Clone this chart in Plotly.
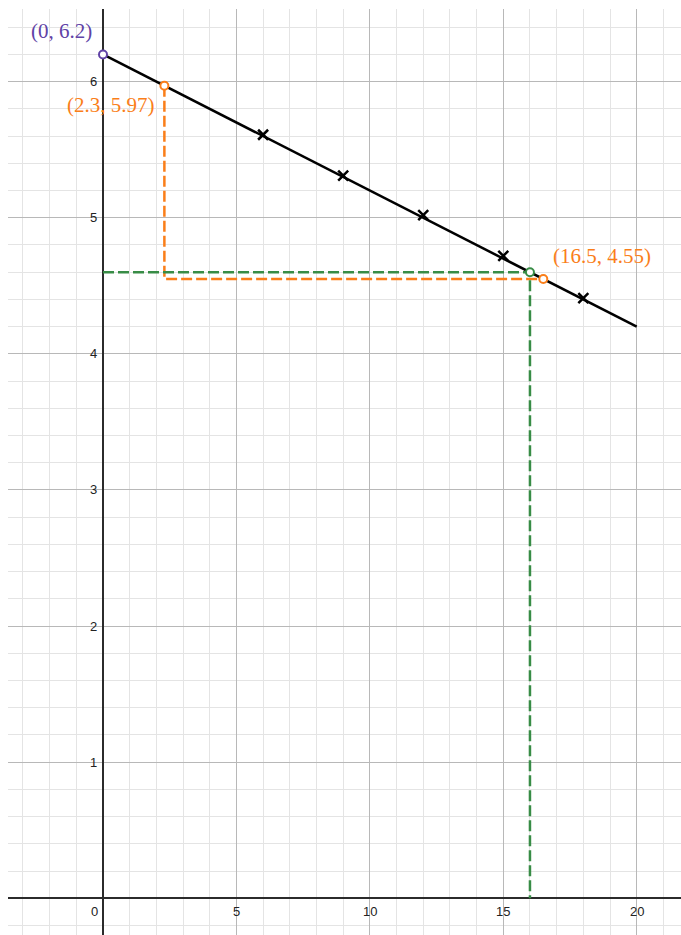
import plotly.graph_objects as go

# Fitted line y = 6.2 - 0.1 x, drawn between its two ends
line_x = [0, 20]
line_y = [6.2, 4.2]

# Measured values
data_x = [6, 9, 12, 15, 18]
data_y = [5.61, 5.31, 5.02, 4.72, 4.41]

# Highlighted points
intercept = (0, 6.2)
orange_pts_x = [2.3, 16.5]
orange_pts_y = [5.97, 4.55]
green_pt = (16, 4.6)

x_tick_vals = [0, 5, 10, 15, 20]
y_tick_vals = [1, 2, 3, 4, 5, 6]

PURPLE = "#6042a6"
ORANGE = "#fa7e19"
GREEN = "#388c46"
LABEL_FONT = dict(family="Liberation Serif, DejaVu Serif, serif", size=21)

fig = go.Figure()

# Orange construction: down from the first point, across to the second
fig.add_trace(go.Scatter(
    x=[orange_pts_x[0], orange_pts_x[0], orange_pts_x[1]],
    y=[orange_pts_y[0], orange_pts_y[1], orange_pts_y[1]],
    mode="lines", line=dict(color=ORANGE, width=2.5, dash="11px,4px"),
    hoverinfo="skip"))

# Green construction: from the y-axis to the point, then down to the x-axis
fig.add_trace(go.Scatter(
    x=[0, green_pt[0], green_pt[0]],
    y=[green_pt[1], green_pt[1], 0],
    mode="lines", line=dict(color=GREEN, width=2.5, dash="11px,4px"),
    hoverinfo="skip"))

fig.add_trace(go.Scatter(
    x=line_x, y=line_y, mode="lines",
    line=dict(color="#000000", width=2.5)))

fig.add_trace(go.Scatter(
    x=data_x, y=data_y, mode="markers",
    marker=dict(symbol="x-thin", size=10, line=dict(color="#000000", width=2.5))))

def open_point(x, y, color):
    fig.add_trace(go.Scatter(
        x=[x], y=[y], mode="markers",
        marker=dict(symbol="circle", size=8, color="white",
                    line=dict(color=color, width=2))))

open_point(intercept[0], intercept[1], PURPLE)
open_point(green_pt[0], green_pt[1], GREEN)
for px, py in zip(orange_pts_x, orange_pts_y):
    open_point(px, py, ORANGE)

def fmt(v):
    return f"{v:g}"

# Coordinate labels
fig.add_annotation(x=intercept[0], y=intercept[1], text=f"({fmt(intercept[0])}, {fmt(intercept[1])})",
                   showarrow=False, xanchor="right", yanchor="bottom", xshift=-9, yshift=9,
                   font=dict(color=PURPLE, **LABEL_FONT))
fig.add_annotation(x=orange_pts_x[0], y=orange_pts_y[0],
                   text=f"({fmt(orange_pts_x[0])}, {fmt(orange_pts_y[0])})",
                   showarrow=False, xanchor="right", yanchor="top", xshift=-7, yshift=-5,
                   font=dict(color=ORANGE, **LABEL_FONT))
fig.add_annotation(x=orange_pts_x[1], y=orange_pts_y[1],
                   text=f"({fmt(orange_pts_x[1])}, {fmt(orange_pts_y[1])})",
                   showarrow=False, xanchor="left", yanchor="bottom", xshift=8, yshift=9,
                   font=dict(color=ORANGE, **LABEL_FONT))

# Axis numbers next to the axes
TICK_FONT = dict(family="Liberation Sans, Arial, sans-serif", size=13, color="#222222")
for v in x_tick_vals:
    fig.add_annotation(x=v, y=0, text=str(v), showarrow=False,
                       xanchor="center" if v != 0 else "right",
                       xshift=0 if v != 0 else -3, yanchor="top", yshift=-4, font=TICK_FONT)
for v in y_tick_vals:
    fig.add_annotation(x=0, y=v, text=str(v), showarrow=False,
                       xanchor="right", xshift=-4, yanchor="middle", font=TICK_FONT)

fig.update_xaxes(range=[-3.56, 21.66], dtick=5, tick0=0, showticklabels=False,
                 showgrid=True, gridcolor="#b8b8b8", gridwidth=1,
                 minor=dict(dtick=1, tick0=0, showgrid=True, gridcolor="#e4e4e4", gridwidth=1),
                 zeroline=True, zerolinecolor="#2b2b2b", zerolinewidth=2,
                 showline=False, fixedrange=True)
fig.update_yaxes(range=[-0.27, 6.534], dtick=1, tick0=0, showticklabels=False,
                 showgrid=True, gridcolor="#b8b8b8", gridwidth=1,
                 minor=dict(dtick=0.2, tick0=0, showgrid=True, gridcolor="#e4e4e4", gridwidth=1),
                 zeroline=True, zerolinecolor="#2b2b2b", zerolinewidth=2,
                 showline=False, fixedrange=True)

fig.update_layout(width=681, height=935, margin=dict(l=8, r=0, t=9, b=0),
                  plot_bgcolor="white", paper_bgcolor="white", showlegend=False)

fig.write_html("out.html")
